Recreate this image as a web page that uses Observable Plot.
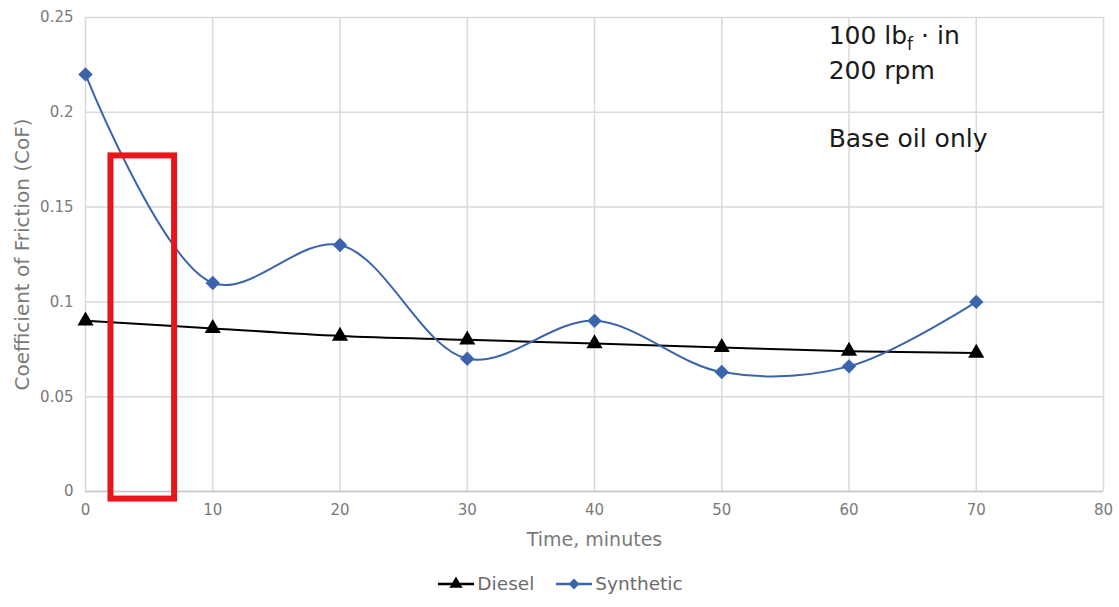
<!DOCTYPE html>
<html>
<head>
<meta charset="utf-8">
<script src="https://cdn.jsdelivr.net/npm/d3@7"></script>
<script src="https://cdn.jsdelivr.net/npm/@observablehq/plot@0.6"></script>
<style>
  body { margin: 0; background: #fff; font-family: "DejaVu Sans", sans-serif; }
  #legend { display: flex; justify-content: center; align-items: center; height: 47px; font-size: 18.5px; color: #6b6b6b; }
  #legend .item { display: flex; align-items: center; margin: 0 10px; }
  #legend svg { margin-right: 1px; }
</style>
</head>
<body>
<div id="chart"></div>
<div id="legend"></div>
<script>
const minutes = [0, 10, 20, 30, 40, 50, 60, 70];
const diesel = [0.090, 0.086, 0.082, 0.080, 0.078, 0.076, 0.074, 0.073];
const synthetic = [0.220, 0.110, 0.130, 0.070, 0.090, 0.063, 0.066, 0.100];
const xTicks = [0, 10, 20, 30, 40, 50, 60, 70, 80];
const yTicks = [0, 0.05, 0.1, 0.15, 0.2, 0.25];
const yTickLabels = ["0", "0.05", "0.1", "0.15", "0.2", "0.25"];
const seriesNames = ["Diesel", "Synthetic"];
const seriesColors = ["#000000", "#3b64ad"];
const highlight = [{x1: 2, x2: 7, y1: -0.004, y2: 0.177}];
const notes = [
  {x: 58.4, y: 0.2400, text: "100 lbf · in"},
  {x: 58.4, y: 0.2220, text: "200 rpm"},
  {x: 58.4, y: 0.1860, text: "Base oil only"}
];

const rows = [];
minutes.forEach((m, i) => {
  rows.push({t: m, v: diesel[i], s: seriesNames[0]});
  rows.push({t: m, v: synthetic[i], s: seriesNames[1]});
});
const dRows = rows.filter(r => r.s === "Diesel");
const sRows = rows.filter(r => r.s === "Synthetic");

const grey = "#7a7a7a";
const chart = Plot.plot({
  width: 1119,
  height: 560,
  marginTop: 17,
  marginLeft: 85,
  marginRight: 16,
  marginBottom: 69,
  style: {fontFamily: "'DejaVu Sans', sans-serif", fontSize: "15px", background: "#fff"},
  x: {domain: [0, 80]},
  y: {domain: [0, 0.25]},
  marks: [
    Plot.gridX(xTicks, {stroke: "#d9d9d9", strokeOpacity: 1, strokeWidth: 1.5}),
    Plot.gridY(yTicks, {stroke: "#d9d9d9", strokeOpacity: 1, strokeWidth: 1.5}),
    Plot.ruleY([0], {stroke: "#c8c8c8", strokeWidth: 1.5}),
    Plot.axisX({ticks: xTicks, tickSize: 0, tickPadding: 13, fill: grey, fontSize: 15,
      label: "Time, minutes", labelAnchor: "center", labelArrow: "none", labelOffset: 54}),
    Plot.axisY({ticks: yTicks, tickSize: 0, tickPadding: 12, fill: grey, fontSize: 15,
      tickFormat: (d) => yTickLabels[yTicks.indexOf(d)],
      label: "Coefficient of Friction (CoF)", labelAnchor: "center", labelArrow: "none", labelOffset: 71}),
    Plot.line(dRows, {x: "t", y: "v", stroke: seriesColors[0], strokeWidth: 2, curve: "catmull-rom"}),
    Plot.line(sRows, {x: "t", y: "v", stroke: seriesColors[1], strokeWidth: 2, curve: "catmull-rom"}),
    Plot.dot(dRows, {x: "t", y: "v", symbol: "triangle", fill: seriesColors[0], r: 6}),
    Plot.dot(sRows, {x: "t", y: "v", symbol: "diamond2", fill: seriesColors[1], stroke: "none", r: 6.5}),
    Plot.rect(highlight, {x1: "x1", x2: "x2", y1: "y1", y2: "y2", fill: "none", stroke: "#e8161b", strokeWidth: 6, clip: false}),
    Plot.text(notes, {x: "x", y: "y", text: "text", textAnchor: "start", fontSize: 25, fill: "#1a1a1a"})
  ]
});
document.getElementById("chart").appendChild(chart);

// axis label font sizes
d3.select(chart).selectAll("g[aria-label='x-axis label'] text")
  .attr("font-size", 19).attr("fill", grey);
d3.select(chart).selectAll("g[aria-label='y-axis label'] text")
  .attr("font-size", 20).attr("fill", grey);

// subscript f in "lbf"
d3.select(chart).selectAll("text").each(function() {
  if (this.textContent === "100 lbf · in") {
    const el = d3.select(this);
    const tsp = el.select("tspan");
    const target = tsp.empty() ? el : tsp;
    target.text(null);
    target.append("tspan").text("100 lb");
    target.append("tspan").attr("font-size", 17).attr("dy", 6).text("f");
    target.append("tspan").attr("dy", -6).text(" · in");
  }
});

// legend
const legend = d3.select("#legend");
seriesNames.forEach((name, i) => {
  const item = legend.append("div").attr("class", "item");
  const svg = item.append("svg").attr("width", 40).attr("height", 16);
  svg.append("line").attr("x1", 2).attr("x2", 38).attr("y1", 8).attr("y2", 8)
    .attr("stroke", seriesColors[i]).attr("stroke-width", 2.5);
  const sym = i === 0 ? d3.symbolTriangle : d3.symbolDiamond2;
  svg.append("path").attr("transform", "translate(20,8)")
    .attr("d", d3.symbol(sym, 75)()).attr("fill", seriesColors[i]);
  item.append("span").text(name);
});
</script>
</body>
</html>
